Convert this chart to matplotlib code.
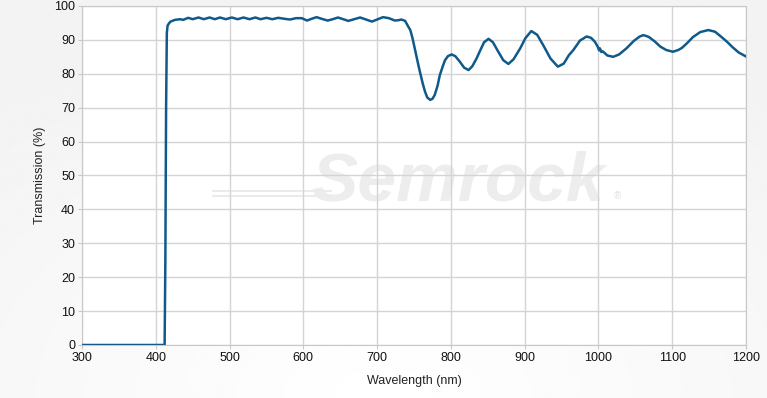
import numpy as np
import matplotlib.pyplot as plt

# transmission curve (nm, %)
wavelength = [300, 412, 413, 414, 415, 416, 418, 420, 426, 433, 437, 444, 450,
              458, 465, 473, 480, 487, 495, 503, 511, 519, 527, 535, 542, 550,
              558, 566, 575, 582, 590, 598, 605, 611, 618, 625, 633, 640, 647,
              654, 661, 669, 677, 685, 693, 700, 708, 716, 724, 729, 733, 738,
              742, 745, 748, 751, 755, 758, 762, 765, 768, 772, 775, 778, 782,
              785, 789, 792, 796, 801, 806, 812, 818, 824, 829, 835, 840, 845,
              851, 857, 864, 871, 878, 885, 894, 901, 909, 917, 925, 935, 945,
              953, 960, 966, 975, 984, 990, 995, 999, 1001, 1002, 1004, 1006,
              1012, 1020, 1028, 1038, 1048, 1056, 1061, 1068, 1076, 1084, 1092,
              1101, 1108, 1113, 1120, 1128, 1138, 1149, 1158, 1166, 1174, 1182,
              1190, 1200]
transmission = [0, 0, 25, 70, 92, 94.2, 94.9, 95.4, 95.9, 96.1, 95.9, 96.5, 96.1,
                96.6, 96.1, 96.6, 96.1, 96.6, 96.1, 96.6, 96.1, 96.6, 96.1, 96.6,
                96.1, 96.5, 96.1, 96.5, 96.2, 96.0, 96.4, 96.4, 95.7, 96.2, 96.7,
                96.2, 95.7, 96.1, 96.6, 96.1, 95.6, 96.1, 96.6, 96.0, 95.4, 96.0,
                96.7, 96.4, 95.7, 95.8, 96.0, 95.6, 94.0, 92.9, 90.5, 87.5, 83.5,
                80.6, 77.0, 74.7, 73.0, 72.3, 72.6, 73.7, 76.5, 79.6, 82.2, 84.0,
                85.2, 85.7, 85.2, 83.6, 81.8, 81.1, 82.2, 84.6, 87.0, 89.3, 90.3,
                89.3, 86.6, 84.0, 82.9, 84.3, 87.5, 90.5, 92.6, 91.5, 88.5, 84.5,
                82.1, 83.0, 85.5, 87.0, 89.8, 91.0, 90.6, 89.5, 88.0, 86.9, 87.5,
                86.4, 86.6, 85.4, 85.0, 85.7, 87.5, 89.7, 91.0, 91.4, 90.9, 89.6,
                88.0, 87.0, 86.5, 87.0, 87.6, 89.0, 90.8, 92.3, 92.9, 92.4, 91.0,
                89.5, 87.8, 86.3, 85.1]

xticks = list(range(300, 1201, 100))
yticks = list(range(0, 101, 10))

plt.rcParams['font.family'] = ['Liberation Sans', 'DejaVu Sans']

fig = plt.figure(figsize=(7.67, 3.98), dpi=100)

# soft grey background gradient
bg = fig.add_axes([0, 0, 1, 1], zorder=-10)
yy, xx = np.mgrid[0:1:200j, 0:1:400j]
shade = 1 - 0.05 * np.clip(np.hypot((xx - 0.5) * 1.2, yy - 1.0), 0, 1)
bg.imshow(shade, cmap='gray', vmin=0, vmax=1, aspect='auto', extent=[0, 1, 0, 1])
bg.axis('off')

ax = fig.add_axes([0.1069, 0.1332, 0.8657, 0.8518])
ax.set_facecolor('white')

# watermark, sits under the grid
ax.text(0.566, 0.478, 'Semrock', transform=ax.transAxes, fontsize=50,
        fontstyle='italic', fontweight='bold', color='#ededed',
        ha='center', va='center', zorder=0.2)
ax.text(0.806, 0.44, '®', transform=ax.transAxes, fontsize=7, color='#e2e2e2',
        ha='center', va='center', zorder=0.2)
for yf in (0.438, 0.454):
    ax.plot([0.197, 0.375], [yf, yf], transform=ax.transAxes, color='#ebebeb',
            lw=1.5, zorder=0.2)

ax.plot(wavelength, transmission, color='#0f5a8a', lw=1.8, zorder=3)

ax.set_xlim(300, 1200)
ax.set_ylim(0, 100)
ax.set_xticks(xticks)
ax.set_yticks(yticks)
ax.grid(True, color='#d4d4d4', lw=1)
ax.set_axisbelow(True)
for s in ax.spines.values():
    s.set_color('#c8c8c8')
ax.tick_params(length=3, color='#c8c8c8', labelsize=9, labelcolor='#111111', pad=2)

ax.set_xlabel('Wavelength (nm)', fontsize=9, color='#222222', labelpad=8)
ax.set_ylabel('Transmission (%)', fontsize=9, color='#222222', labelpad=6)

fig.savefig('out.png', dpi=100)
plt.close(fig)
